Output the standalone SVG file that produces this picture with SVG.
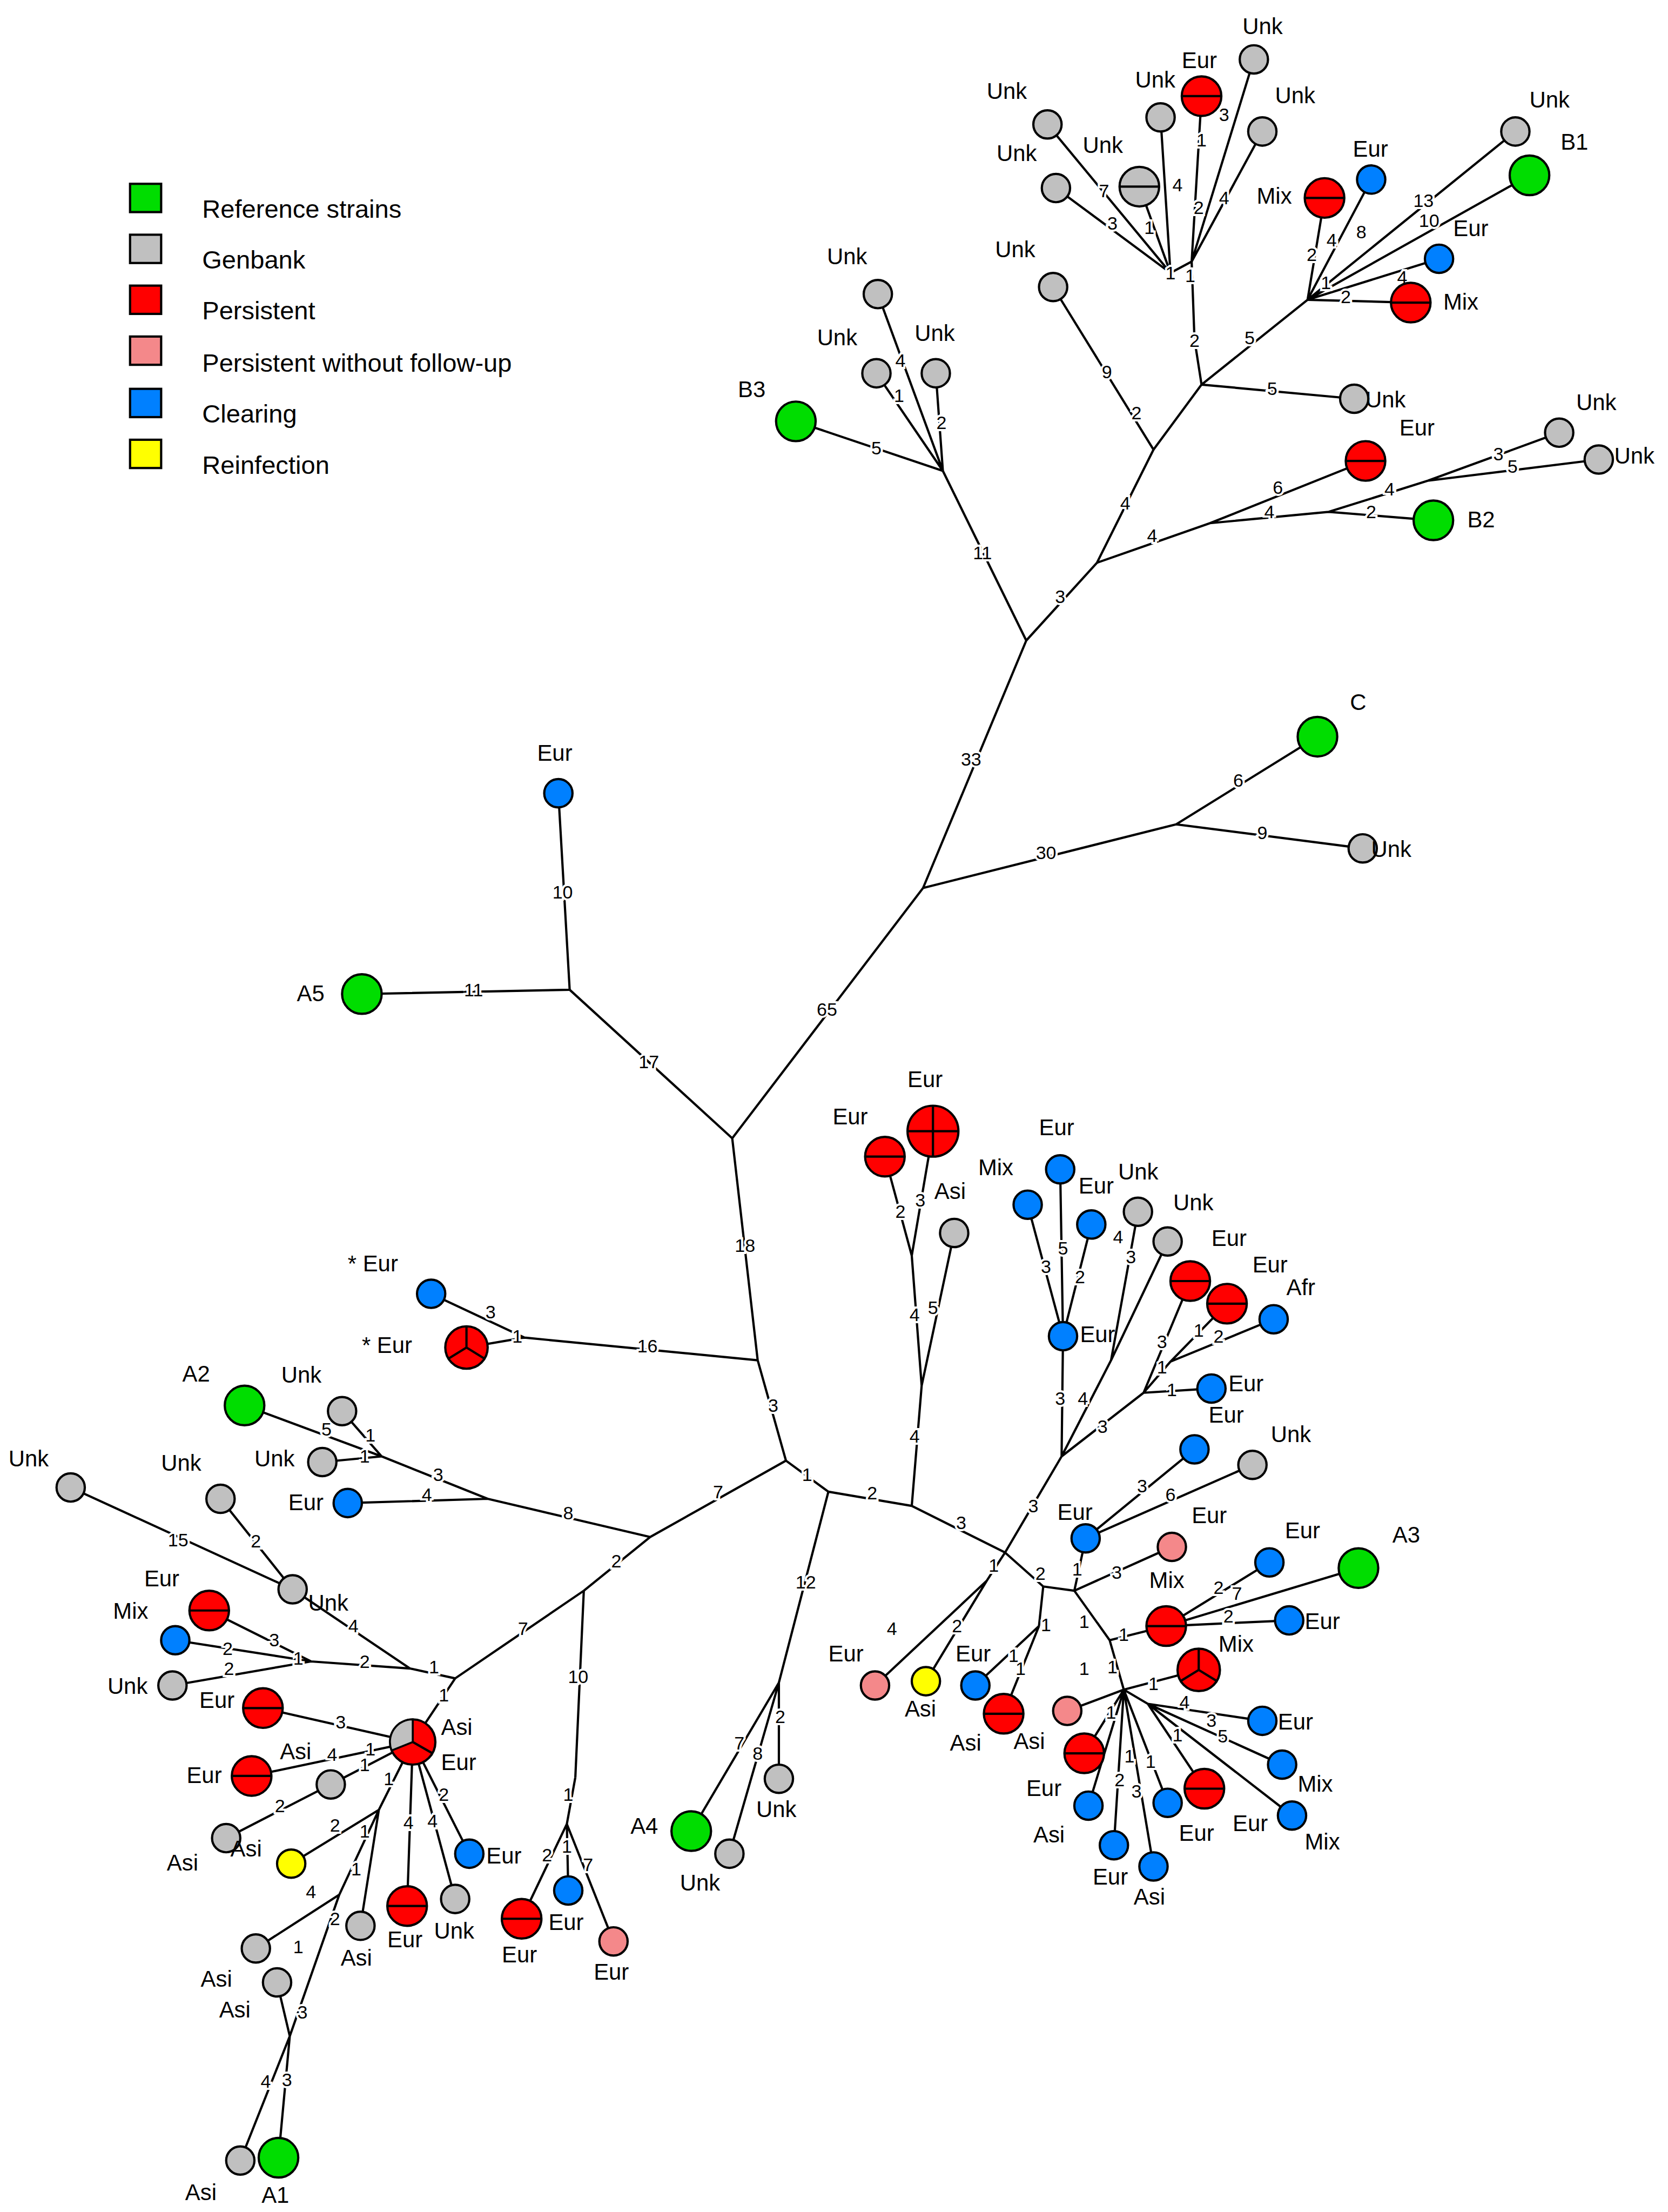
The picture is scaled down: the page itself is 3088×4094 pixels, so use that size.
<svg xmlns="http://www.w3.org/2000/svg" width="3088" height="4094" viewBox="0 0 3088 4094">
<style>
circle,rect.k{stroke:#000;stroke-width:1.6}
.g{fill:#c0c0c0}.r{fill:#f00}.p{fill:#f4888a}.b{fill:#0080ff}.y{fill:#ff0}.gr{fill:#00dd00}
#edges path,.sp{stroke:#000;stroke-width:1.6;fill:none}
text{font-family:"Liberation Sans",Arial,sans-serif;fill:#000}
.t{font-size:16px}
.e{font-size:13px;text-anchor:middle;stroke:#fff;stroke-width:3;paint-order:stroke;dominant-baseline:middle}
.lg{font-size:18px}
</style>
<rect width="3088" height="4094" fill="#fff"/>
<g transform="scale(2.617)">
<g id="legend">
<rect class="k gr" x="92" y="130" width="22" height="20"/><text class="lg" x="143" y="154">Reference strains</text>
<rect class="k g" x="92" y="166" width="22" height="20"/><text class="lg" x="143" y="190">Genbank</text>
<rect class="k r" x="92" y="202" width="22" height="20"/><text class="lg" x="143" y="226">Persistent</text>
<rect class="k p" x="92" y="238" width="22" height="20"/><text class="lg" x="143" y="263">Persistent without follow-up</text>
<rect class="k b" x="92" y="275" width="22" height="20"/><text class="lg" x="143" y="299">Clearing</text>
<rect class="k y" x="92" y="311" width="22" height="20"/><text class="lg" x="143" y="335">Reinfection</text>
</g>
<g id="edges">
<path d="M518 805L653 628M518 805L403 700M518 805L536 962M653 628L726 453M653 628L832 583M832 583L932 521M832 583L964 600M726 453L667 333M726 453L776 398"/>
<path d="M667 333L563 298M667 333L621 208M667 333L620 264M667 333L662 264"/>
<path d="M776 398L816 318M776 398L856 370M856 370L966 326M856 370L940 362M940 362L1014 368M940 362L1010 340M1010 340L1103 306M1010 340L1131 325"/>
<path d="M816 318L745 203M816 318L850 272M850 272L958 282M850 272L845 240M850 272L925 212"/>
<path d="M925 212L937 140M925 212L970 127M925 212L1072 93M925 212L1082 124M925 212L1018 183M925 212L998 214"/>
<path d="M845 240L843 185M843 185L850 68M843 185L887 42M843 185L893 93M843 185L828 193M828 193L821 83M828 193L806 132M828 193L747 133M828 193L741 88"/>
<path d="M403 700L256 703M403 700L395 561"/>
<path d="M536 962L556 1033M536 962L371 946M371 946L305 915M371 946L330 953"/>
<path d="M556 1033L460 1087M556 1033L586 1055M460 1087L345 1060M460 1087L413 1125M345 1060L246 1063M345 1060L270 1030M270 1030L173 994M270 1030L242 998M270 1030L228 1034"/>
<path d="M413 1125L322 1187M413 1125L407 1257M322 1187L290 1180M290 1180L207 1124M207 1124L156 1060M207 1124L50 1052M290 1180L220 1175M220 1175L148 1139M220 1175L124 1160M220 1175L122 1192"/>
<path d="M322 1187L292 1232M292 1232L186 1208M292 1232L178 1256M292 1232L234 1262M234 1262L160 1300M292 1232L288 1348M292 1232L322 1343M292 1232L332 1311M292 1232L268 1280M268 1280L206 1318M268 1280L255 1362M268 1280L240 1340M240 1340L181 1378M240 1340L205 1440M205 1440L196 1402M205 1440L197 1526M205 1440L170 1528"/>
<path d="M407 1257L401 1290M401 1290L369 1357M401 1290L402 1337M401 1290L434 1373"/>
<path d="M586 1055L551 1190M586 1055L645 1065M551 1190L489 1295M551 1190L516 1311M551 1190L551 1258"/>
<path d="M645 1065L652 980M645 1065L711 1098M652 980L645 888M652 980L675 872M645 888L626 818M645 888L660 800"/>
<path d="M711 1098L751 1030M751 1030L752 945M752 945L727 852M752 945L750 827M752 945L772 866M751 1030L786 962M786 962L805 857M786 962L826 878M751 1030L809 985M809 985L842 906M809 985L828 963M828 963L868 922M828 963L901 933M809 985L857 982"/>
<path d="M711 1098L698 1118M698 1118L619 1192M698 1118L655 1189M711 1098L738 1122M738 1122L760 1125M760 1125L768 1088M768 1088L845 1025M768 1088L886 1036M760 1125L829 1094M738 1122L735 1150M735 1150L690 1192M735 1150L710 1212"/>
<path d="M760 1125L785 1160M785 1160L825 1150M825 1150L898 1105M825 1150L961 1109M825 1150L912 1146M785 1160L795 1195M795 1195L848 1181M795 1195L755 1210M795 1195L767 1240M795 1195L812 1205M812 1205L893 1217M812 1205L907 1248M812 1205L852 1265M812 1205L914 1284M795 1195L826 1275M795 1195L788 1305M795 1195L770 1277M795 1195L816 1320"/>
</g>
<g id="edge-labels">
<text class="e" x="585" y="715">65</text><text class="e" x="459" y="752">17</text><text class="e" x="527" y="882">18</text>
<text class="e" x="687" y="538">33</text><text class="e" x="740" y="604">30</text><text class="e" x="876" y="553">6</text><text class="e" x="893" y="590">9</text>
<text class="e" x="695" y="392">11</text><text class="e" x="750" y="423">3</text><text class="e" x="620" y="318">5</text><text class="e" x="637" y="256">4</text><text class="e" x="636" y="281">1</text><text class="e" x="666" y="300">2</text>
<text class="e" x="796" y="357">4</text><text class="e" x="815" y="380">4</text><text class="e" x="904" y="346">6</text><text class="e" x="898" y="363">4</text><text class="e" x="970" y="363">2</text><text class="e" x="983" y="347">4</text><text class="e" x="1060" y="322">3</text><text class="e" x="1070" y="331">5</text>
<text class="e" x="783" y="264">9</text><text class="e" x="804" y="293">2</text><text class="e" x="900" y="276">5</text><text class="e" x="845" y="242">2</text><text class="e" x="884" y="240">5</text>
<text class="e" x="928" y="181">2</text><text class="e" x="942" y="171">4</text><text class="e" x="938" y="201">1</text><text class="e" x="963" y="165">8</text><text class="e" x="1007" y="143">13</text><text class="e" x="1011" y="157">10</text><text class="e" x="992" y="197">4</text><text class="e" x="952" y="211">2</text>
<text class="e" x="850" y="100">1</text><text class="e" x="848" y="148">2</text><text class="e" x="866" y="82">3</text><text class="e" x="866" y="141">4</text><text class="e" x="833" y="132">4</text><text class="e" x="813" y="162">1</text><text class="e" x="787" y="159">3</text><text class="e" x="781" y="136">7</text><text class="e" x="828" y="194">1</text><text class="e" x="842" y="196">1</text>
<text class="e" x="335" y="701">11</text><text class="e" x="398" y="632">10</text>
<text class="e" x="547" y="995">3</text><text class="e" x="458" y="953">16</text><text class="e" x="347" y="929">3</text><text class="e" x="366" y="946">1</text>
<text class="e" x="508" y="1056">7</text><text class="e" x="571" y="1044">1</text><text class="e" x="402" y="1071">8</text><text class="e" x="436" y="1105">2</text><text class="e" x="302" y="1058">4</text><text class="e" x="310" y="1044">3</text><text class="e" x="231" y="1012">5</text><text class="e" x="262" y="1016">1</text><text class="e" x="258" y="1031">1</text>
<text class="e" x="370" y="1153">7</text><text class="e" x="409" y="1187">10</text><text class="e" x="307" y="1180">1</text><text class="e" x="250" y="1151">4</text><text class="e" x="181" y="1091">2</text><text class="e" x="126" y="1090">15</text><text class="e" x="258" y="1176">2</text><text class="e" x="211" y="1174">1</text><text class="e" x="194" y="1161">3</text><text class="e" x="161" y="1167">2</text><text class="e" x="162" y="1181">2</text>
<text class="e" x="314" y="1200">1</text><text class="e" x="241" y="1219">3</text><text class="e" x="235" y="1242">4</text><text class="e" x="258" y="1249">1</text><text class="e" x="262" y="1238">1</text><text class="e" x="198" y="1278">2</text><text class="e" x="289" y="1290">4</text><text class="e" x="306" y="1289">4</text><text class="e" x="314" y="1270">2</text><text class="e" x="275" y="1259">1</text><text class="e" x="237" y="1292">2</text><text class="e" x="258" y="1296">1</text><text class="e" x="220" y="1339">4</text><text class="e" x="237" y="1358">2</text><text class="e" x="252" y="1323">1</text><text class="e" x="211" y="1378">1</text><text class="e" x="214" y="1424">3</text><text class="e" x="203" y="1472">3</text><text class="e" x="188" y="1473">4</text>
<text class="e" x="402" y="1270">1</text><text class="e" x="387" y="1313">2</text><text class="e" x="401" y="1307">1</text><text class="e" x="416" y="1320">7</text>
<text class="e" x="570" y="1120">12</text><text class="e" x="617" y="1057">2</text><text class="e" x="523" y="1234">7</text><text class="e" x="536" y="1241">8</text><text class="e" x="552" y="1215">2</text>
<text class="e" x="647" y="1017">4</text><text class="e" x="680" y="1078">3</text><text class="e" x="647" y="931">4</text><text class="e" x="660" y="926">5</text><text class="e" x="637" y="858">2</text><text class="e" x="651" y="850">3</text>
<text class="e" x="731" y="1066">3</text><text class="e" x="750" y="990">3</text><text class="e" x="740" y="897">3</text><text class="e" x="752" y="884">5</text><text class="e" x="764" y="904">2</text><text class="e" x="766" y="990">4</text><text class="e" x="791" y="876">4</text><text class="e" x="800" y="890">3</text><text class="e" x="780" y="1010">3</text><text class="e" x="822" y="950">3</text><text class="e" x="822" y="968">1</text><text class="e" x="848" y="942">1</text><text class="e" x="862" y="946">2</text><text class="e" x="829" y="984">1</text>
<text class="e" x="703" y="1108">1</text><text class="e" x="677" y="1151">2</text><text class="e" x="631" y="1153">4</text><text class="e" x="736" y="1114">2</text><text class="e" x="762" y="1111">1</text><text class="e" x="808" y="1052">3</text><text class="e" x="828" y="1058">6</text><text class="e" x="790" y="1113">3</text><text class="e" x="740" y="1150">1</text><text class="e" x="717" y="1172">1</text><text class="e" x="722" y="1181">1</text>
<text class="e" x="767" y="1148">1</text><text class="e" x="795" y="1157">1</text><text class="e" x="862" y="1124">2</text><text class="e" x="875" y="1128">7</text><text class="e" x="869" y="1144">2</text><text class="e" x="787" y="1180">1</text><text class="e" x="816" y="1192">1</text><text class="e" x="767" y="1181">1</text><text class="e" x="786" y="1212">1</text><text class="e" x="838" y="1205">4</text><text class="e" x="857" y="1218">3</text><text class="e" x="865" y="1229">5</text><text class="e" x="833" y="1228">1</text><text class="e" x="814" y="1247">1</text><text class="e" x="804" y="1268">3</text><text class="e" x="792" y="1260">2</text><text class="e" x="799" y="1243">1</text>
</g>
<g id="nodes">
<g id="C"><circle class="gr" cx="932" cy="521" r="14"/><text class="t" x="955" y="502">C</text></g>
<g id="n1"><circle class="g" cx="964" cy="600" r="10"/><text class="t" x="970" y="606">Unk</text></g>
<g id="B3"><circle class="gr" cx="563" cy="298" r="14"/><text class="t" x="522" y="281">B3</text></g>
<g id="n2"><circle class="g" cx="621" cy="208" r="10"/><text class="t" x="585" y="187">Unk</text></g>
<g id="n3"><circle class="g" cx="620" cy="264" r="10"/><text class="t" x="578" y="244">Unk</text></g>
<g id="n4"><circle class="g" cx="662" cy="264" r="10"/><text class="t" x="647" y="241">Unk</text></g>
<g id="n5"><circle class="r" cx="966" cy="326" r="14"/><path class="sp" d="M952 326H980"/><text class="t" x="990" y="308">Eur</text></g>
<g id="B2"><circle class="gr" cx="1014" cy="368" r="14"/><text class="t" x="1038" y="373">B2</text></g>
<g id="n6"><circle class="g" cx="1103" cy="306" r="10"/><text class="t" x="1115" y="290">Unk</text></g>
<g id="n7"><circle class="g" cx="1131" cy="325" r="10"/><text class="t" x="1142" y="328">Unk</text></g>
<g id="n8"><circle class="g" cx="745" cy="203" r="10"/><text class="t" x="704" y="182">Unk</text></g>
<g id="n9"><circle class="g" cx="958" cy="282" r="10"/><text class="t" x="966" y="288">Unk</text></g>
<g id="n10"><circle class="r" cx="937" cy="140" r="14"/><path class="sp" d="M923 140H951"/><text class="t" x="889" y="144">Mix</text></g>
<g id="n11"><circle class="b" cx="970" cy="127" r="10"/><text class="t" x="957" y="111">Eur</text></g>
<g id="n12"><circle class="g" cx="1072" cy="93" r="10"/><text class="t" x="1082" y="76">Unk</text></g>
<g id="B1"><circle class="gr" cx="1082" cy="124" r="14"/><text class="t" x="1104" y="106">B1</text></g>
<g id="n13"><circle class="b" cx="1018" cy="183" r="10"/><text class="t" x="1028" y="167">Eur</text></g>
<g id="n14"><circle class="r" cx="998" cy="214" r="14"/><path class="sp" d="M984 214H1012"/><text class="t" x="1021" y="219">Mix</text></g>
<g id="n15"><circle class="r" cx="850" cy="68" r="14"/><path class="sp" d="M836 68H864"/><text class="t" x="836" y="48">Eur</text></g>
<g id="n16"><circle class="g" cx="887" cy="42" r="10"/><text class="t" x="879" y="24">Unk</text></g>
<g id="n17"><circle class="g" cx="893" cy="93" r="10"/><text class="t" x="902" y="73">Unk</text></g>
<g id="n18"><circle class="g" cx="821" cy="83" r="10"/><text class="t" x="803" y="62">Unk</text></g>
<g id="n19"><circle class="g" cx="806" cy="132" r="14"/><path class="sp" d="M792 132H820"/><text class="t" x="766" y="108">Unk</text></g>
<g id="n20"><circle class="g" cx="747" cy="133" r="10"/><text class="t" x="705" y="114">Unk</text></g>
<g id="n21"><circle class="g" cx="741" cy="88" r="10"/><text class="t" x="698" y="70">Unk</text></g>
<g id="A5"><circle class="gr" cx="256" cy="703" r="14"/><text class="t" x="210" y="708">A5</text></g>
<g id="n22"><circle class="b" cx="395" cy="561" r="10"/><text class="t" x="380" y="538">Eur</text></g>
<g id="n23"><circle class="b" cx="305" cy="915" r="10"/><text class="t" x="246" y="899">* Eur</text></g>
<g id="n24"><circle class="r" cx="330" cy="953" r="15"/><path class="sp" d="M330 953V938M330 953L317 961M330 953L343 961"/><text class="t" x="256" y="957">* Eur</text></g>
<g id="n25"><circle class="b" cx="246" cy="1063" r="10"/><text class="t" x="204" y="1068">Eur</text></g>
<g id="A2"><circle class="gr" cx="173" cy="994" r="14"/><text class="t" x="129" y="977">A2</text></g>
<g id="n26"><circle class="g" cx="242" cy="998" r="10"/><text class="t" x="199" y="978">Unk</text></g>
<g id="n27"><circle class="g" cx="228" cy="1034" r="10"/><text class="t" x="180" y="1037">Unk</text></g>
<g id="n28"><circle class="g" cx="207" cy="1124" r="10"/><text class="t" x="218" y="1139">Unk</text></g>
<g id="n29"><circle class="g" cx="156" cy="1060" r="10"/><text class="t" x="114" y="1040">Unk</text></g>
<g id="n30"><circle class="g" cx="50" cy="1052" r="10"/><text class="t" x="6" y="1037">Unk</text></g>
<g id="n31"><circle class="r" cx="148" cy="1139" r="14"/><path class="sp" d="M134 1139H162"/><text class="t" x="102" y="1122">Eur</text></g>
<g id="n32"><circle class="b" cx="124" cy="1160" r="10"/><text class="t" x="80" y="1145">Mix</text></g>
<g id="n33"><circle class="g" cx="122" cy="1192" r="10"/><text class="t" x="76" y="1198">Unk</text></g>
<g id="n34"><circle class="r" cx="292" cy="1232" r="16"/><path class="g" stroke="#000" stroke-width="1.4" d="M292 1232L292 1216A16 16 0 0 0 277 1238Z"/><path class="sp" d="M292 1232L306 1240"/><text class="t" x="312" y="1227">Asi</text><text class="t" x="312" y="1252">Eur</text></g>
<g id="n35"><circle class="r" cx="186" cy="1208" r="14"/><path class="sp" d="M172 1208H200"/><text class="t" x="141" y="1208">Eur</text></g>
<g id="n36"><circle class="r" cx="178" cy="1256" r="14"/><path class="sp" d="M164 1256H192"/><text class="t" x="132" y="1261">Eur</text></g>
<g id="n37"><circle class="g" cx="234" cy="1262" r="10"/><text class="t" x="198" y="1244">Asi</text></g>
<g id="n38"><circle class="g" cx="160" cy="1300" r="10"/><text class="t" x="118" y="1323">Asi</text></g>
<g id="n39"><circle class="r" cx="288" cy="1348" r="14"/><path class="sp" d="M274 1348H302"/><text class="t" x="274" y="1377">Eur</text></g>
<g id="n40"><circle class="g" cx="322" cy="1343" r="10"/><text class="t" x="307" y="1371">Unk</text></g>
<g id="n41"><circle class="b" cx="332" cy="1311" r="10"/><text class="t" x="344" y="1318">Eur</text></g>
<g id="n42"><circle class="y" cx="206" cy="1318" r="10"/><text class="t" x="163" y="1313">Asi</text></g>
<g id="n43"><circle class="g" cx="255" cy="1362" r="10"/><text class="t" x="241" y="1390">Asi</text></g>
<g id="n44"><circle class="g" cx="181" cy="1378" r="10"/><text class="t" x="142" y="1405">Asi</text></g>
<g id="n45"><circle class="g" cx="196" cy="1402" r="10"/><text class="t" x="155" y="1427">Asi</text></g>
<g id="A1"><circle class="gr" cx="197" cy="1526" r="14"/><text class="t" x="185" y="1558">A1</text></g>
<g id="n46"><circle class="g" cx="170" cy="1528" r="10"/><text class="t" x="131" y="1556">Asi</text></g>
<g id="n47"><circle class="r" cx="369" cy="1357" r="14"/><path class="sp" d="M355 1357H383"/><text class="t" x="355" y="1388">Eur</text></g>
<g id="n48"><circle class="b" cx="402" cy="1337" r="10"/><text class="t" x="388" y="1365">Eur</text></g>
<g id="n49"><circle class="p" cx="434" cy="1373" r="10"/><text class="t" x="420" y="1400">Eur</text></g>
<g id="A4"><circle class="gr" cx="489" cy="1295" r="14"/><text class="t" x="446" y="1297">A4</text></g>
<g id="n50"><circle class="g" cx="516" cy="1311" r="10"/><text class="t" x="481" y="1337">Unk</text></g>
<g id="n51"><circle class="g" cx="551" cy="1258" r="10"/><text class="t" x="535" y="1285">Unk</text></g>
<g id="n52"><circle class="r" cx="626" cy="818" r="14"/><path class="sp" d="M612 818H640"/><text class="t" x="589" y="795">Eur</text></g>
<g id="n53"><circle class="r" cx="660" cy="800" r="18"/><path class="sp" d="M642 800H678M660 782V818"/><text class="t" x="642" y="769">Eur</text></g>
<g id="n54"><circle class="g" cx="675" cy="872" r="10"/><text class="t" x="661" y="848">Asi</text></g>
<g id="n55"><circle class="b" cx="752" cy="945" r="10"/><text class="t" x="764" y="949">Eur</text></g>
<g id="n56"><circle class="b" cx="727" cy="852" r="10"/><text class="t" x="692" y="831">Mix</text></g>
<g id="n57"><circle class="b" cx="750" cy="827" r="10"/><text class="t" x="735" y="803">Eur</text></g>
<g id="n58"><circle class="b" cx="772" cy="866" r="10"/><text class="t" x="763" y="844">Eur</text></g>
<g id="n59"><circle class="g" cx="805" cy="857" r="10"/><text class="t" x="791" y="834">Unk</text></g>
<g id="n60"><circle class="g" cx="826" cy="878" r="10"/><text class="t" x="830" y="856">Unk</text></g>
<g id="n61"><circle class="r" cx="842" cy="906" r="14"/><path class="sp" d="M828 906H856"/><text class="t" x="857" y="881">Eur</text></g>
<g id="n62"><circle class="r" cx="868" cy="922" r="14"/><path class="sp" d="M854 922H882"/><text class="t" x="886" y="900">Eur</text></g>
<g id="n63"><circle class="b" cx="901" cy="933" r="10"/><text class="t" x="910" y="916">Afr</text></g>
<g id="n64"><circle class="b" cx="857" cy="982" r="10"/><text class="t" x="869" y="984">Eur</text><text class="t" x="855" y="1006">Eur</text></g>
<g id="n65"><circle class="p" cx="619" cy="1192" r="10"/><text class="t" x="586" y="1175">Eur</text></g>
<g id="n66"><circle class="y" cx="655" cy="1189" r="10"/><text class="t" x="640" y="1214">Asi</text></g>
<g id="n67"><circle class="b" cx="768" cy="1088" r="10"/><text class="t" x="748" y="1075">Eur</text></g>
<g id="n68"><circle class="b" cx="845" cy="1025" r="10"/></g>
<g id="n69"><circle class="g" cx="886" cy="1036" r="10"/><text class="t" x="899" y="1020">Unk</text></g>
<g id="n70"><circle class="p" cx="829" cy="1094" r="10"/><text class="t" x="843" y="1077">Eur</text><text class="t" x="813" y="1123">Mix</text></g>
<g id="n71"><circle class="b" cx="690" cy="1192" r="10"/><text class="t" x="676" y="1175">Eur</text></g>
<g id="n72"><circle class="r" cx="710" cy="1212" r="14"/><path class="sp" d="M696 1212H724"/><text class="t" x="672" y="1238">Asi</text><text class="t" x="717" y="1237">Asi</text></g>
<g id="n73"><circle class="r" cx="825" cy="1150" r="14"/><path class="sp" d="M811 1150H839"/><text class="t" x="862" y="1168">Mix</text></g>
<g id="n74"><circle class="b" cx="898" cy="1105" r="10"/><text class="t" x="909" y="1088">Eur</text></g>
<g id="A3"><circle class="gr" cx="961" cy="1109" r="14"/><text class="t" x="985" y="1091">A3</text></g>
<g id="n75"><circle class="b" cx="912" cy="1146" r="10"/><text class="t" x="923" y="1152">Eur</text></g>
<g id="n76"><circle class="r" cx="848" cy="1181" r="15"/><path class="sp" d="M848 1181V1166M848 1181L835 1189M848 1181L861 1189"/></g>
<g id="n77"><circle class="p" cx="755" cy="1210" r="10"/></g>
<g id="n78"><circle class="r" cx="767" cy="1240" r="14"/><path class="sp" d="M753 1240H781"/><text class="t" x="726" y="1270">Eur</text></g>
<g id="n79"><circle class="b" cx="893" cy="1217" r="10"/><text class="t" x="904" y="1223">Eur</text></g>
<g id="n80"><circle class="b" cx="907" cy="1248" r="10"/><text class="t" x="918" y="1267">Mix</text></g>
<g id="n81"><circle class="r" cx="852" cy="1265" r="14"/><path class="sp" d="M838 1265H866"/><text class="t" x="834" y="1302">Eur</text></g>
<g id="n82"><circle class="b" cx="914" cy="1284" r="10"/><text class="t" x="872" y="1295">Eur</text><text class="t" x="923" y="1308">Mix</text></g>
<g id="n83"><circle class="b" cx="826" cy="1275" r="10"/></g>
<g id="n84"><circle class="b" cx="788" cy="1305" r="10"/><text class="t" x="773" y="1333">Eur</text></g>
<g id="n85"><circle class="b" cx="770" cy="1277" r="10"/><text class="t" x="731" y="1303">Asi</text></g>
<g id="n86"><circle class="b" cx="816" cy="1320" r="10"/><text class="t" x="802" y="1347">Asi</text></g>
</g>
</g>
</svg>
